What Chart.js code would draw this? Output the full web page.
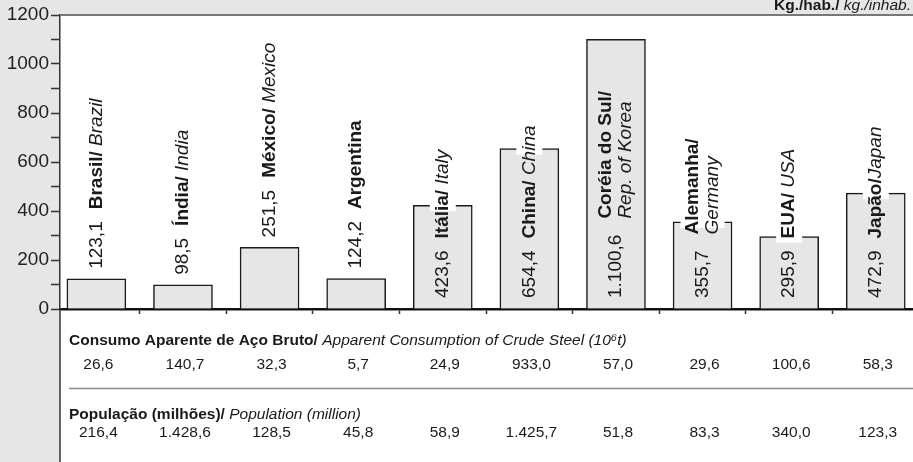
<!DOCTYPE html>
<html>
<head>
<meta charset="utf-8">
<script src="https://cdn.jsdelivr.net/npm/chart.js@4.4.1/dist/chart.umd.min.js"></script>
<style>
  body { margin: 0; background: #e6e6e6; }
  canvas { display: block; }
</style>
</head>
<body>
<canvas id="steelChart" width="913" height="462"></canvas>
<script>
// kg per inhabitant (bars)
const kgPerCapita = [123.1, 98.5, 251.5, 124.2, 423.6, 654.4, 1100.6, 355.7, 295.9, 472.9];
const namesPt = ['Brasil/', 'Índia/', 'México/', 'Argentina', 'Itália/', 'China/', 'Coréia do Sul/', 'Alemanha/', 'EUA/', 'Japão/'];
const namesEn = [' Brazil', ' India', ' Mexico', '', ' Italy', ' China', 'Rep. of Korea', 'Germany', ' USA', 'Japan'];
const stackedNames = [6, 7];
// table rows
const consumo = [26.6, 140.7, 32.3, 5.7, 24.9, 933.0, 57.0, 29.6, 100.6, 58.3];
const populacao = [216.4, 1428.6, 128.5, 45.8, 58.9, 1425.7, 51.8, 83.3, 340.0, 123.3];

const FONT = '"Liberation Sans", Arial, sans-serif';
const INK = '#1a1a1a';
const LBL = 19;

const fmt = v => {
  const parts = v.toFixed(1).split('.');
  return parts[0].replace(/\B(?=(\d{3})+(?!\d))/g, '.') + ',' + parts[1];
};

// draws bold + italic runs one after the other
function drawRuns(ctx, bold, italic, x, y) {
  ctx.font = 'bold 15.5px ' + FONT;
  ctx.fillText(bold, x, y);
  const w = ctx.measureText(bold).width;
  ctx.font = 'italic 15.5px ' + FONT;
  ctx.fillText(italic, x + w, y);
}

const decor = {
  id: 'decor',
  beforeDraw(chart) {
    const { ctx, chartArea: a, width, height } = chart;
    ctx.save();
    ctx.fillStyle = '#e6e6e6';
    ctx.fillRect(0, 0, width, height);
    ctx.fillStyle = '#ffffff';
    ctx.fillRect(a.left, a.top, width - a.left, height - a.top);
    ctx.restore();
  },
  afterDatasetsDraw(chart) {
    const ctx = chart.ctx;
    const x = chart.scales.x, y = chart.scales.y;
    const base = y.getPixelForValue(0);
    kgPerCapita.forEach((v, i) => {
      const cx = x.getPixelForValue(i);
      const top = y.getPixelForValue(v);
      const inside = v >= 290;
      const start = inside ? base - 11 : top - 10;
      const stacked = stackedNames.includes(i);
      ctx.save();
      ctx.textBaseline = 'middle';
      ctx.textAlign = 'left';
      ctx.font = LBL + 'px ' + FONT;
      const valTxt = fmt(v);
      const nameStart = ctx.measureText(valTxt).width + (stacked ? 16 : 12);
      ctx.font = 'bold ' + LBL + 'px ' + FONT;
      const wPt = ctx.measureText(namesPt[i]).width;
      ctx.font = 'italic ' + LBL + 'px ' + FONT;
      const wEn = ctx.measureText(namesEn[i]).width;
      const blockEnd = nameStart + (stacked ? Math.max(wPt, wEn) : wPt + wEn);
      const half = stacked ? 20 : 11;
      // text box covers the bar outline where it crosses
      if (inside && start - blockEnd < top) {
        ctx.fillStyle = '#ffffff';
        ctx.fillRect(cx - half - 2, top - 1, 2 * half + 4, 7);
      }
      ctx.translate(cx, start);
      ctx.rotate(-Math.PI / 2);
      ctx.fillStyle = INK;
      ctx.font = LBL + 'px ' + FONT;
      ctx.fillText(valTxt, 0, 0);
      if (stacked) {
        ctx.font = 'bold ' + LBL + 'px ' + FONT;
        ctx.fillText(namesPt[i], nameStart, -10);
        ctx.font = 'italic ' + LBL + 'px ' + FONT;
        ctx.fillText(namesEn[i], nameStart, 10);
      } else {
        ctx.font = 'bold ' + LBL + 'px ' + FONT;
        ctx.fillText(namesPt[i], nameStart, 0);
        ctx.font = 'italic ' + LBL + 'px ' + FONT;
        ctx.fillText(namesEn[i], nameStart + wPt, 0);
      }
      ctx.restore();
    });
  },
  afterDraw(chart) {
    const { ctx, chartArea: a, width, height } = chart;
    const x = chart.scales.x;
    ctx.save();
    // frame lines
    ctx.strokeStyle = '#777';
    ctx.lineWidth = 2;
    ctx.beginPath();
    ctx.moveTo(a.left, a.top);
    ctx.lineTo(width, a.top);
    ctx.stroke();
    ctx.strokeStyle = '#333';
    ctx.lineWidth = 1.5;
    ctx.beginPath();
    ctx.moveTo(a.left, a.bottom);
    ctx.lineTo(a.left, height);
    ctx.stroke();

    // unit, top right
    ctx.fillStyle = INK;
    ctx.textBaseline = 'alphabetic';
    ctx.textAlign = 'right';
    ctx.font = 'italic 15.5px ' + FONT;
    const unitEn = ' kg./inhab.';
    ctx.fillText(unitEn, width - 2, 10);
    const wu = ctx.measureText(unitEn).width;
    ctx.font = 'bold 15.5px ' + FONT;
    ctx.fillText('Kg./hab./', width - 2 - wu, 10);

    // table under the axis
    const left = a.left + 9;
    const b = a.bottom;
    ctx.textAlign = 'left';
    drawRuns(ctx, 'Consumo Aparente de Aço Bruto/', ' Apparent Consumption of Crude Steel (10⁶t)', left, b + 36);
    drawRuns(ctx, 'População (milhões)/', ' Population (million)', left, b + 110);

    ctx.strokeStyle = '#8c8c8c';
    ctx.lineWidth = 1.5;
    ctx.beginPath();
    ctx.moveTo(left, b + 79.5);
    ctx.lineTo(width, b + 79.5);
    ctx.stroke();

    ctx.textAlign = 'center';
    ctx.font = '15.5px ' + FONT;
    consumo.forEach((v, i) => ctx.fillText(fmt(v), x.getPixelForValue(i) + 2, b + 60));
    populacao.forEach((v, i) => ctx.fillText(fmt(v), x.getPixelForValue(i) + 2, b + 128));
    ctx.restore();
  }
};

new Chart(document.getElementById('steelChart'), {
  type: 'bar',
  data: {
    datasets: [{
      data: kgPerCapita.map((v, i) => ({ x: i, y: v })),
      backgroundColor: '#e6e6e6',
      borderColor: INK,
      borderWidth: 1.5,
      barThickness: 59
    }]
  },
  options: {
    responsive: false,
    animation: false,
    layout: { padding: { top: 15, right: 0, bottom: 0, left: 0 } },
    plugins: { legend: { display: false }, tooltip: { enabled: false } },
    scales: {
      x: {
        type: 'linear',
        offset: false,
        min: -0.42,
        max: 9.43,
        afterBuildTicks: s => { s.ticks = [0.5, 1.5, 2.5, 3.5, 4.5, 5.5, 6.5, 7.5, 8.5].map(v => ({ value: v })); },
        afterFit: s => { s.height = 153; },
        ticks: { display: false },
        grid: { offset: false, drawOnChartArea: false, drawTicks: true, tickLength: 5, tickColor: '#333', tickWidth: 1.5 },
        border: { display: true, color: '#111', width: 2.5 }
      },
      y: {
        min: 0,
        max: 1200,
        afterFit: s => { s.width = 60; },
        ticks: {
          stepSize: 100,
          autoSkip: false,
          padding: 2,
          color: '#222',
          font: { family: FONT, size: 19 },
          callback: v => (v % 200 === 0 ? v : '')
        },
        grid: { drawOnChartArea: false, drawTicks: true, tickLength: 9, tickColor: '#333', tickWidth: 1.5 },
        border: { display: true, color: '#333', width: 1.5 }
      }
    }
  },
  plugins: [decor]
});
</script>
</body>
</html>
